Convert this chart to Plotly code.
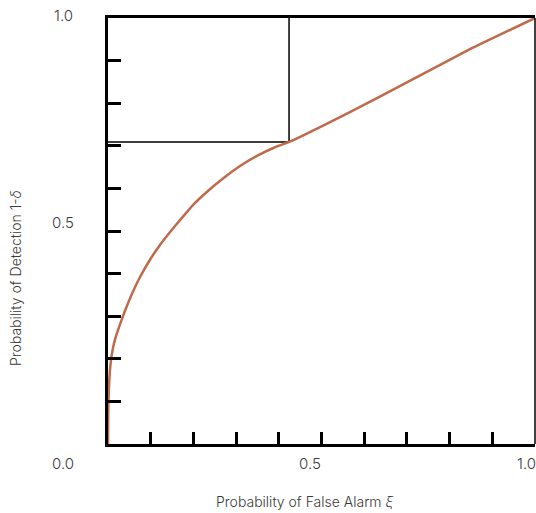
import plotly.graph_objects as go

# ROC curve
false_alarm = [0.0, 0.0003, 0.001, 0.003, 0.007, 0.011, 0.016, 0.025, 0.038, 0.056,
               0.075, 0.098, 0.12, 0.145, 0.169, 0.2, 0.234, 0.27, 0.31, 0.35,
               0.39, 0.424, 0.57, 0.71, 0.85, 1.0]
detection = [0.0, 0.05, 0.1, 0.15, 0.197, 0.222, 0.244, 0.272, 0.308, 0.352,
             0.392, 0.432, 0.465, 0.497, 0.526, 0.562, 0.594, 0.624, 0.653, 0.677,
             0.696, 0.709, 0.781, 0.854, 0.928, 1.0]

# operating point marked by the black guide lines
op_x = 0.424
op_y = 0.709

tick_vals = [0.0, 0.1, 0.2, 0.3, 0.4, 0.5, 0.6, 0.7, 0.8, 0.9, 1.0]

FONT = dict(family="Inter, Roboto, Liberation Sans, sans-serif", size=15, color="#3a3a3a", weight=300)

fig = go.Figure()
fig.add_trace(go.Scatter(x=[0, op_x, op_x], y=[op_y, op_y, 1.0], mode="lines",
                         line=dict(color="black", width=1.5), hoverinfo="skip"))
fig.add_trace(go.Scatter(x=false_alarm, y=detection, mode="lines",
                         line=dict(color="#c06a4b", width=2.5, shape="spline", smoothing=0.4)))

fig.update_layout(
    width=536, height=513,
    margin=dict(l=108, r=1, t=18, b=69),
    paper_bgcolor="white", plot_bgcolor="white",
    showlegend=False,
    xaxis=dict(range=[0, 1], tickvals=tick_vals, showticklabels=False,
               ticks="inside", ticklen=12, tickwidth=2.5, tickcolor="black",
               showline=True, linewidth=3, linecolor="black", mirror=True,
               showgrid=False, zeroline=False),
    yaxis=dict(range=[0, 1], tickvals=tick_vals, showticklabels=False,
               ticks="inside", ticklen=13, tickwidth=2.5, tickcolor="black",
               showline=True, linewidth=3, linecolor="black",
               showgrid=False, zeroline=False),
    shapes=[dict(type="line", xref="paper", yref="paper", x0=1, x1=1, y0=0, y1=1,
                 line=dict(color="black", width=1.5))],
)

labels = [
    ("1.0", -0.105, 1.005), ("0.5", -0.105, 0.521), ("0.0", -0.105, -0.045),
    ("0.5", 0.473, -0.045), ("1.0", 0.98, -0.045),
]
for txt, x, y in labels:
    fig.add_annotation(text=txt, xref="paper", yref="paper", x=x, y=y,
                       xanchor="center", yanchor="middle", showarrow=False, font=FONT)

fig.add_annotation(text="Probability of False Alarm <i>ξ</i>", xref="paper", yref="paper",
                   x=0.461, y=-0.136, xanchor="center", yanchor="middle",
                   showarrow=False, font=dict(FONT, size=14))
fig.add_annotation(text="Probability of Detection 1-<i>δ</i>", xref="paper", yref="paper",
                   x=-0.215, y=0.39, xanchor="center", yanchor="middle", textangle=-90,
                   showarrow=False, font=dict(FONT, size=14))

fig.write_html("out.html", config={"displayModeBar": False},
               post_script="document.body.style.margin='0';document.body.style.overflow='hidden';")
